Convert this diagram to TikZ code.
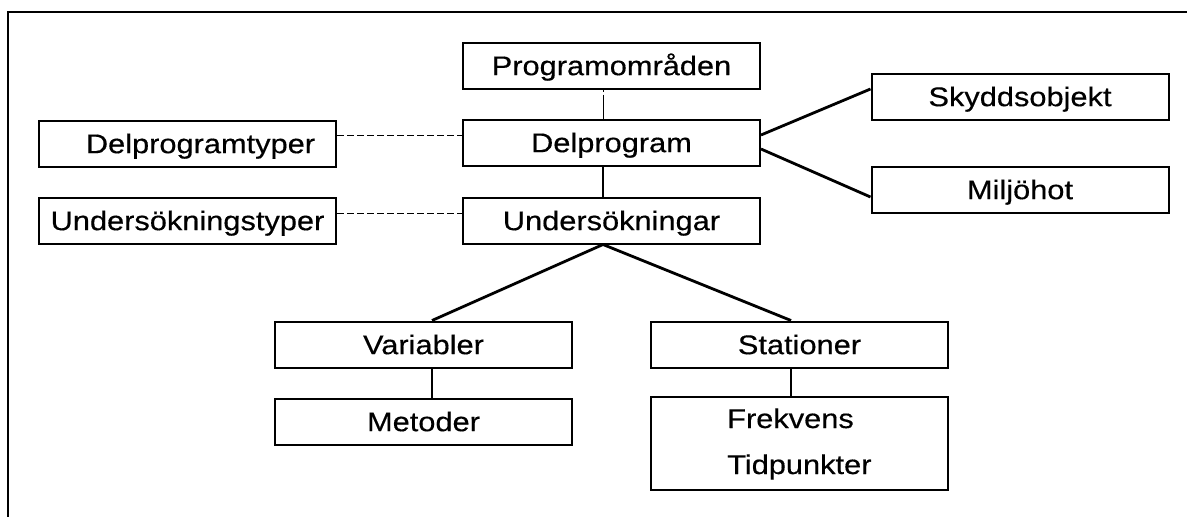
\documentclass[tikz,border=0pt]{standalone}
\usepackage{fontspec}
\setmainfont[FakeStretch=1.14,FakeBold=0.4]{Liberation Sans}
\begin{document}
\begin{tikzpicture}[x=1pt,y=-1pt,
  box/.style={draw, line width=2pt, minimum width=297pt, minimum height=46pt,
    inner sep=0pt, text height=19.3pt, text depth=0pt,
    font=\fontsize{27}{31}\selectfont},
  lbl/.style={inner sep=0pt, font=\fontsize{27}{31}\selectfont},
  thinlink/.style={line width=0.8pt, dash pattern=on 2pt off 3pt on 40pt},
  vlink/.style={line width=1.5pt},
  dlink/.style={line width=0.8pt, dash pattern=on 7pt off 3pt},
  slink/.style={line width=2.8pt},
  frame/.style={line width=2.2pt}]
\useasboundingbox (0,0) rectangle (1187,517);
\draw[frame] (1187,12) -- (8,12) -- (8,517);

\node[box] (prog)  at (611.5,65.5)  {Programområden};
\node[box] (delp)  at (611.5,142.5) {Delprogram};
\node[box] (unds)  at (611.5,220.5) {Undersökningar};
\node[box] (dtyp)  at (187.5,143.5) {\hspace*{26pt}Delprogramtyper};
\node[box] (utyp)  at (187.5,220.5) {Undersökningstyper};
\node[box] (skydd) at (1020,96.5)   {Skyddsobjekt};
\node[box] (milj)  at (1020,189.5)  {Miljöhot};
\node[box] (var)   at (423.5,344.5) {Variabler};
\node[box] (met)   at (423.5,421.5) {Metoder};
\node[box] (stat)  at (799.5,344.5) {Stationer};
\node[box, minimum height=93pt] (frek) at (799.5,443.5) {};
\node[lbl, anchor=base west] (frek1) at (727,428) {Frekvens};
\node[lbl, anchor=base west] (frek2) at (727,474) {Tidpunkter};

\draw[thinlink] ([xshift=-8.5pt]prog.south) -- ([xshift=-8.5pt]delp.north);
\draw[vlink] ([xshift=-8.5pt]delp.south) -- ([xshift=-8.5pt]unds.north);
\draw[dlink] ([yshift=8.5pt]dtyp.east) -- ([yshift=8.5pt]dtyp.east -| delp.west);
\draw[dlink] ([yshift=7.5pt]utyp.east) -- ([yshift=7.5pt]utyp.east -| unds.west);
\draw[slink] ([yshift=7.5pt]delp.east) -- ([yshift=7.5pt]skydd.west);
\draw[slink] ([yshift=-6.5pt]delp.east) -- ([yshift=-7.5pt]milj.west);
\draw[slink] ([xshift=-8.5pt]unds.south) -- ([xshift=8.5pt]var.north);
\draw[slink] ([xshift=-8.5pt]unds.south) -- ([xshift=-8.5pt]stat.north);
\draw[vlink] ([xshift=8.5pt]var.south) -- ([xshift=8.5pt]met.north);
\draw[vlink] ([xshift=-8.5pt]stat.south) -- ([xshift=-8.5pt]frek.north);
\end{tikzpicture}
\end{document}
